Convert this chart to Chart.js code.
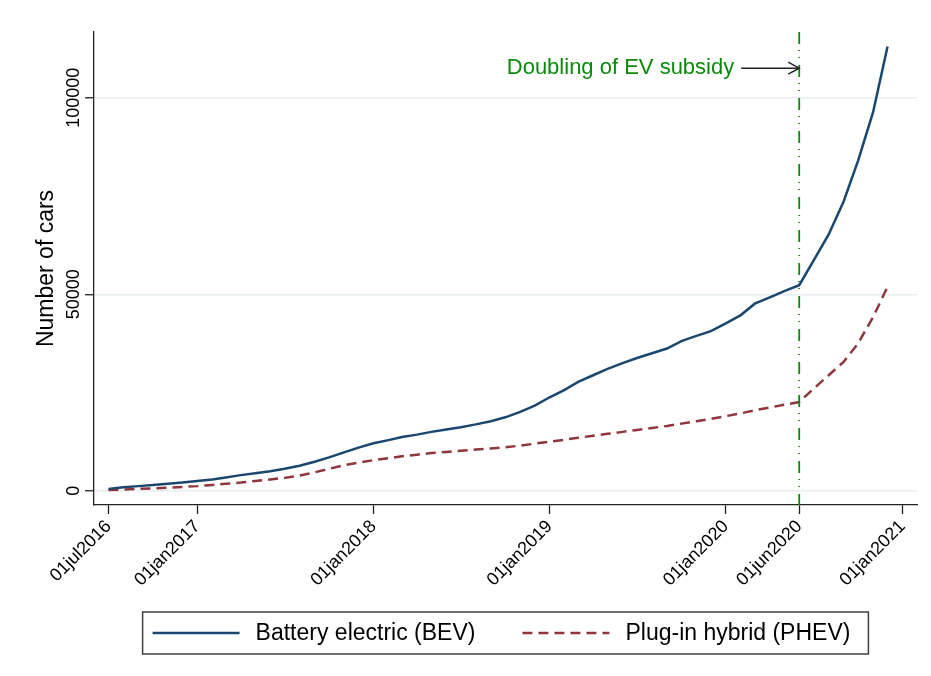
<!DOCTYPE html>
<html>
<head>
<meta charset="utf-8">
<script src="https://cdn.jsdelivr.net/npm/chart.js@4.4.1/dist/chart.umd.min.js"></script>
<style>
  html, body { margin: 0; padding: 0; background: #fff; }
  #wrap { width: 931px; height: 676px; position: relative; }
</style>
</head>
<body>
<div id="wrap"><canvas id="chartEv"></canvas></div>
<script>
// Cumulative registrations, first day of each month
const months = [
    '2016-07-01', '2016-08-01', '2016-09-01', '2016-10-01', '2016-11-01', '2016-12-01',
    '2017-01-01', '2017-02-01', '2017-03-01', '2017-04-01', '2017-05-01', '2017-06-01',
    '2017-07-01', '2017-08-01', '2017-09-01', '2017-10-01', '2017-11-01', '2017-12-01',
    '2018-01-01', '2018-02-01', '2018-03-01', '2018-04-01', '2018-05-01', '2018-06-01',
    '2018-07-01', '2018-08-01', '2018-09-01', '2018-10-01', '2018-11-01', '2018-12-01',
    '2019-01-01', '2019-02-01', '2019-03-01', '2019-04-01', '2019-05-01', '2019-06-01',
    '2019-07-01', '2019-08-01', '2019-09-01', '2019-10-01', '2019-11-01', '2019-12-01',
    '2020-01-01', '2020-02-01', '2020-03-01', '2020-04-01', '2020-05-01', '2020-06-01',
    '2020-07-01', '2020-08-01', '2020-09-01', '2020-10-01', '2020-11-01', '2020-12-01'
];

const bev = [
    500, 900, 1200, 1500, 1800, 2100,
    2500, 2900, 3400, 4000, 4500, 5000,
    5600, 6400, 7400, 8500, 9800, 11000,
    12100, 12900, 13700, 14300, 15000, 15600,
    16200, 16900, 17700, 18700, 20100, 21700,
    23800, 25700, 27700, 29400, 31000, 32500,
    33800, 35000, 36200, 38100, 39400, 40600,
    42600, 44700, 47600, 49200, 50800, 52300,
    58600, 65200, 73600, 84000, 96300, 113000
];

const phev = [
    200, 350, 500, 650, 800, 1000,
    1200, 1500, 1800, 2100, 2500, 2900,
    3300, 3900, 4700, 5600, 6500, 7200,
    7800, 8300, 8800, 9200, 9600, 9900,
    10200, 10500, 10800, 11100, 11500, 12000,
    12500, 13000, 13500, 14000, 14500, 15000,
    15500, 16000, 16500, 17100, 17700, 18300,
    19000, 19700, 20500, 21200, 21900, 22600,
    26000, 29400, 32800, 37500, 44200, 51900
];

const seriesNames = ['Battery electric (BEV)', 'Plug-in hybrid (PHEV)'];
const tickDates = ['2016-07-01', '2017-01-01', '2018-01-01', '2019-01-01', '2020-01-01', '2020-06-01', '2021-01-01'];
const tickLabels = ['01jul2016', '01jan2017', '01jan2018', '01jan2019', '01jan2020', '01jun2020', '01jan2021'];
const yTicks = [0, 50000, 100000];

const eventDate = '2020-06-01';
const eventText = 'Doubling of EV subsidy';
const eventY = 107500;

const FONT = '"Liberation Sans", Arial, sans-serif';

// dias desde el 01jul2016
function toDays(s) {
    const [y, m, d] = s.split('-').map(Number);
    return (Date.UTC(y, m - 1, d) - Date.UTC(2016, 6, 1)) / 86400000;
}

const tickDays = tickDates.map(toDays);

// Etiquetas del eje Y (verticales, estilo Stata)
const yTickLabels = {
    id: 'yTickLabels',
    afterDraw(chart) {
        const sc = chart.scales.y;
        const ctx = chart.ctx;
        ctx.save();
        ctx.font = '18px ' + FONT;
        ctx.fillStyle = '#000';
        ctx.textAlign = 'center';
        ctx.textBaseline = 'alphabetic';
        sc.ticks.forEach(t => {
            const py = sc.getPixelForValue(t.value);
            ctx.save();
            ctx.translate(sc.right - 15.5, py);
            ctx.rotate(-Math.PI / 2);
            ctx.fillText(String(t.value), 0, 0);
            ctx.restore();
        });
        ctx.restore();
    }
};

// Linea vertical + flecha + texto
const eventMarker = {
    id: 'eventMarker',
    afterDatasetsDraw(chart) {
        const ctx = chart.ctx;
        const area = chart.chartArea;
        const px = chart.scales.x.getPixelForValue(toDays(eventDate));
        const py = chart.scales.y.getPixelForValue(eventY);
        ctx.save();
        ctx.strokeStyle = '#0b8a0b';
        ctx.lineWidth = 1.8;
        ctx.setLineDash([12, 6, 1, 6, 1, 7]);
        ctx.beginPath();
        ctx.moveTo(px, area.top);
        ctx.lineTo(px, area.bottom);
        ctx.stroke();

        ctx.setLineDash([]);
        ctx.strokeStyle = '#222';
        ctx.lineWidth = 1.5;
        ctx.beginPath();
        ctx.moveTo(px - 58, py);
        ctx.lineTo(px, py);
        ctx.moveTo(px - 11, py - 6);
        ctx.lineTo(px, py);
        ctx.lineTo(px - 11, py + 6);
        ctx.stroke();

        ctx.fillStyle = '#0b8a0b';
        ctx.font = '22px ' + FONT;
        ctx.textAlign = 'right';
        ctx.textBaseline = 'middle';
        ctx.fillText(eventText, px - 65, py);
        ctx.restore();
    }
};

// Leyenda con recuadro
const boxLegend = {
    id: 'boxLegend',
    afterDraw(chart) {
        const ctx = chart.ctx;
        const area = chart.chartArea;
        const sets = chart.data.datasets;
        ctx.save();
        ctx.font = '23px ' + FONT;
        const sample = 87, gap = 16, spacing = 47, padL = 10, padR = 18;
        const widths = sets.map(ds => ctx.measureText(ds.label).width);
        let total = padL + padR + spacing * (sets.length - 1);
        widths.forEach(w => { total += sample + gap + w; });
        const left = (area.left + area.right) / 2 - total / 2;
        const top = 612, h = 42, cy = top + h / 2;

        ctx.strokeStyle = '#404040';
        ctx.lineWidth = 1.5;
        ctx.strokeRect(left, top, total, h);

        let x = left + padL;
        sets.forEach((ds, i) => {
            ctx.strokeStyle = ds.borderColor;
            ctx.lineWidth = ds.borderWidth;
            ctx.setLineDash(ds.borderDash || []);
            ctx.beginPath();
            ctx.moveTo(x, cy);
            ctx.lineTo(x + sample, cy);
            ctx.stroke();
            ctx.setLineDash([]);
            ctx.fillStyle = '#000';
            ctx.textAlign = 'left';
            ctx.textBaseline = 'middle';
            ctx.fillText(ds.label, x + sample + gap, cy + 1);
            x += sample + gap + widths[i] + spacing;
        });
        ctx.restore();
    }
};

const ctx = document.getElementById('chartEv').getContext('2d');

new Chart(ctx, {
    type: 'line',
    data: {
        datasets: [{
            label: seriesNames[0],
            data: months.map((m, i) => ({ x: toDays(m), y: bev[i] })),
            borderColor: '#1a476f',
            borderWidth: 2.5,
            pointRadius: 0,
            tension: 0,
            fill: false
        }, {
            label: seriesNames[1],
            data: months.map((m, i) => ({ x: toDays(m), y: phev[i] })),
            borderColor: '#90353b',
            borderWidth: 2.5,
            borderDash: [10, 6],
            pointRadius: 0,
            tension: 0,
            fill: false
        }]
    },
    options: {
        responsive: true,
        maintainAspectRatio: false,
        animation: false,
        layout: {
            padding: { top: 32, right: 14, left: 0, bottom: 0 }
        },
        plugins: {
            legend: { display: false },
            tooltip: { enabled: false }
        },
        scales: {
            x: {
                type: 'linear',
                min: toDays('2016-06-01'),
                max: toDays('2021-01-31'),
                afterBuildTicks: (scale) => {
                    scale.ticks = tickDays.map(v => ({ value: v }));
                },
                afterFit: (scale) => { scale.height = 171; },
                grid: {
                    drawOnChartArea: false,
                    drawTicks: true,
                    tickLength: 9,
                    tickColor: '#222',
                    tickWidth: 1.3
                },
                border: { display: true, color: '#222', width: 1.3 },
                ticks: {
                    autoSkip: false,
                    minRotation: 45,
                    maxRotation: 45,
                    padding: 2,
                    color: '#000',
                    font: { family: FONT, size: 18 },
                    callback: (v) => tickLabels[tickDays.indexOf(v)]
                }
            },
            y: {
                type: 'linear',
                min: -3600,
                max: 116700,
                afterBuildTicks: (scale) => {
                    scale.ticks = yTicks.map(v => ({ value: v }));
                },
                afterFit: (scale) => { scale.width = 94; },
                grid: {
                    color: '#e6eef2',
                    lineWidth: 1.5,
                    drawTicks: true,
                    tickLength: 9,
                    tickColor: '#222',
                    tickWidth: 1.3
                },
                border: { display: true, color: '#222', width: 1.3 },
                ticks: { display: false },
                title: {
                    display: true,
                    text: 'Number of cars',
                    color: '#000',
                    font: { family: FONT, size: 23 },
                    padding: { top: 33, bottom: 0 }
                }
            }
        }
    },
    plugins: [yTickLabels, eventMarker, boxLegend]
});
</script>
</body>
</html>
